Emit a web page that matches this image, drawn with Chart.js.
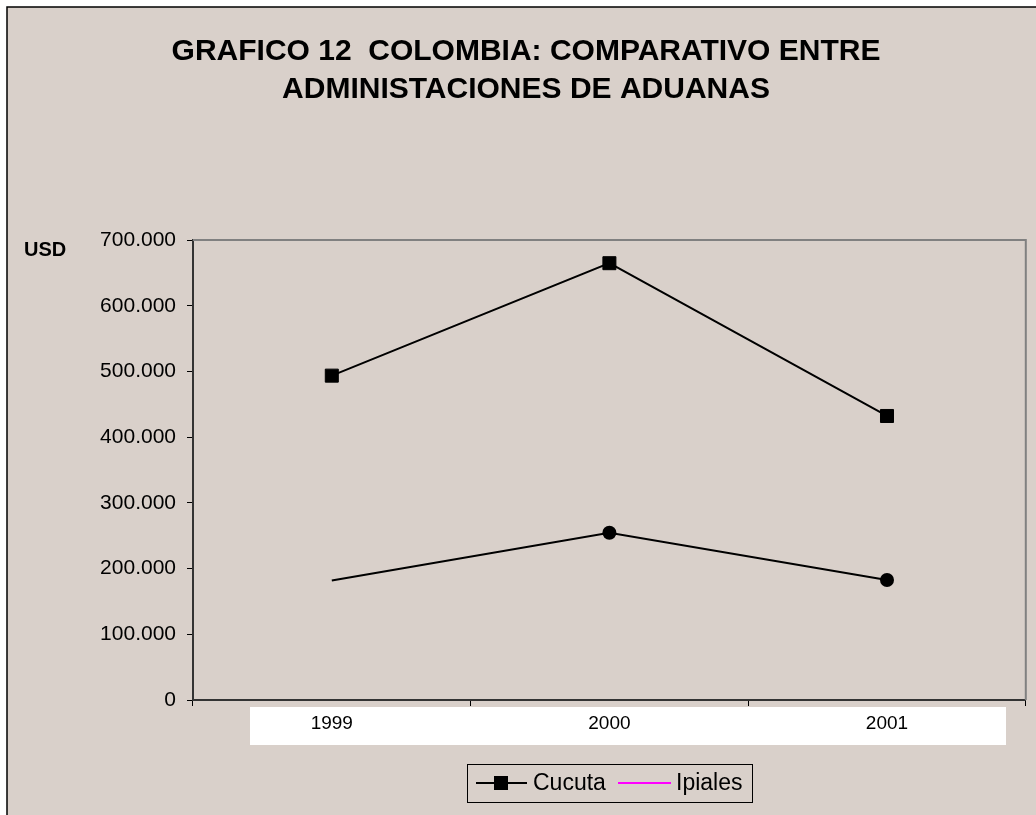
<!DOCTYPE html>
<html>
<head>
<meta charset="utf-8">
<script src="https://cdn.jsdelivr.net/npm/chart.js@4.4.0/dist/chart.umd.min.js"></script>
<style>
  body { margin: 0; background: #ffffff; }
  canvas { display: block; }
</style>
</head>
<body>
<canvas id="lineChart" width="1036" height="815"></canvas>
<script>
// datos del grafico
var anios = ['1999', '2000', '2001'];
var cucuta = [493600, 664700, 432200];
var ipiales = [182000, 254600, 182600];
var yTicks = [0, 100000, 200000, 300000, 400000, 500000, 600000, 700000];
var titulo = ['GRAFICO 12  COLOMBIA: COMPARATIVO ENTRE', 'ADMINISTACIONES DE ADUANAS'];
var leyenda = ['Cucuta', 'Ipiales'];

var fondo = '#D9D0CA';
var fuente = "'Liberation Sans', Arial, sans-serif";

function formatoMiles(v) {
    return String(v).replace(/\B(?=(\d{3})+(?!\d))/g, '.');
}

// fondo, banda blanca de etiquetas, USD y borde del area
var fondoPlugin = {
    id: 'fondo',
    beforeDraw: function(chart) {
        var ctx = chart.ctx;
        ctx.save();
        ctx.fillStyle = '#ffffff';
        ctx.fillRect(0, 0, chart.width, chart.height);
        ctx.fillStyle = fondo;
        ctx.fillRect(7, 7, chart.width + 20, chart.height + 20);
        ctx.strokeStyle = '#000000';
        ctx.lineWidth = 1.5;
        ctx.beginPath();
        ctx.moveTo(7, chart.height + 5);
        ctx.lineTo(7, 7);
        ctx.lineTo(chart.width + 5, 7);
        ctx.stroke();

        // banda blanca bajo el eje x
        ctx.fillStyle = '#ffffff';
        ctx.fillRect(250, 707, 756, 38);

        // USD
        ctx.fillStyle = '#000000';
        ctx.font = 'bold 20px ' + fuente;
        ctx.textAlign = 'left';
        ctx.textBaseline = 'middle';
        ctx.fillText('USD', 24, 250);
        ctx.restore();
    },
    beforeDatasetsDraw: function(chart) {
        var ctx = chart.ctx;
        var a = chart.chartArea;
        ctx.save();
        ctx.strokeStyle = '#808080';
        ctx.lineWidth = 2;
        ctx.beginPath();
        ctx.moveTo(a.left, a.top);
        ctx.lineTo(a.right, a.top);
        ctx.lineTo(a.right, a.bottom);
        ctx.stroke();
        ctx.restore();
    }
};

// leyenda dibujada a mano (como en el original)
var leyendaPlugin = {
    id: 'leyenda',
    afterDraw: function(chart) {
        var ctx = chart.ctx;
        var yc = 783;
        ctx.save();
        ctx.strokeStyle = '#000000';
        ctx.lineWidth = 1;
        ctx.strokeRect(467.5, 764.5, 285, 38);

        // Cucuta
        ctx.lineWidth = 2;
        ctx.beginPath();
        ctx.moveTo(476, yc);
        ctx.lineTo(527, yc);
        ctx.stroke();
        ctx.fillStyle = '#000000';
        ctx.fillRect(494, yc - 7, 14, 14);

        // Ipiales
        ctx.strokeStyle = '#FF00FF';
        ctx.beginPath();
        ctx.moveTo(618, yc);
        ctx.lineTo(671, yc);
        ctx.stroke();

        ctx.font = '23px ' + fuente;
        ctx.textAlign = 'left';
        ctx.textBaseline = 'middle';
        ctx.fillText(leyenda[0], 533, yc + 1);
        ctx.fillText(leyenda[1], 676, yc + 1);
        ctx.restore();
    }
};

var ctx = document.getElementById('lineChart').getContext('2d');
var lineChart = new Chart(ctx, {
    type: 'line',
    data: {
        labels: anios,
        datasets: [{
            label: leyenda[0],
            data: cucuta,
            borderColor: '#000000',
            backgroundColor: '#000000',
            borderWidth: 2,
            pointStyle: 'rect',
            pointRadius: 9.2,
            pointBorderWidth: 1,
            pointHoverRadius: 9.2,
            tension: 0
        }, {
            label: leyenda[1],
            data: ipiales,
            borderColor: '#000000',
            backgroundColor: '#000000',
            borderWidth: 2,
            pointStyle: 'circle',
            pointRadius: [0, 7, 7],
            pointBorderWidth: 0,
            pointHoverRadius: 7,
            tension: 0
        }]
    },
    options: {
        responsive: false,
        animation: false,
        layout: {
            padding: { left: 26, right: 10, top: 0, bottom: 70 }
        },
        plugins: {
            legend: { display: false },
            tooltip: { enabled: false },
            title: {
                display: true,
                text: titulo,
                color: '#000000',
                font: { family: fuente, size: 30, weight: 'bold', lineHeight: 1.27 },
                padding: { top: 33, bottom: 130.8 }
            }
        },
        scales: {
            x: {
                offset: true,
                grid: {
                    offset: true,
                    drawOnChartArea: false,
                    drawTicks: true,
                    tickLength: 6,
                    color: '#000000',
                    lineWidth: 1
                },
                border: { display: true, color: '#333333', width: 2 },
                ticks: {
                    color: '#000000',
                    padding: 6,
                    maxRotation: 0,
                    font: { family: fuente, size: 19 }
                },
                afterFit: function(scale) { scale.height = 45; }
            },
            y: {
                min: 0,
                max: 700000,
                afterBuildTicks: function(scale) {
                    scale.ticks = yTicks.map(function(v) { return { value: v }; });
                },
                grid: {
                    drawOnChartArea: false,
                    drawTicks: true,
                    tickLength: 6,
                    color: '#000000',
                    lineWidth: 1
                },
                border: { display: true, color: '#333333', width: 2 },
                ticks: {
                    color: '#000000',
                    padding: 11,
                    font: { family: fuente, size: 21 },
                    callback: function(v) { return formatoMiles(v); }
                },
                afterFit: function(scale) { scale.width = 167; }
            }
        }
    },
    plugins: [fondoPlugin, leyendaPlugin]
});
</script>
</body>
</html>
